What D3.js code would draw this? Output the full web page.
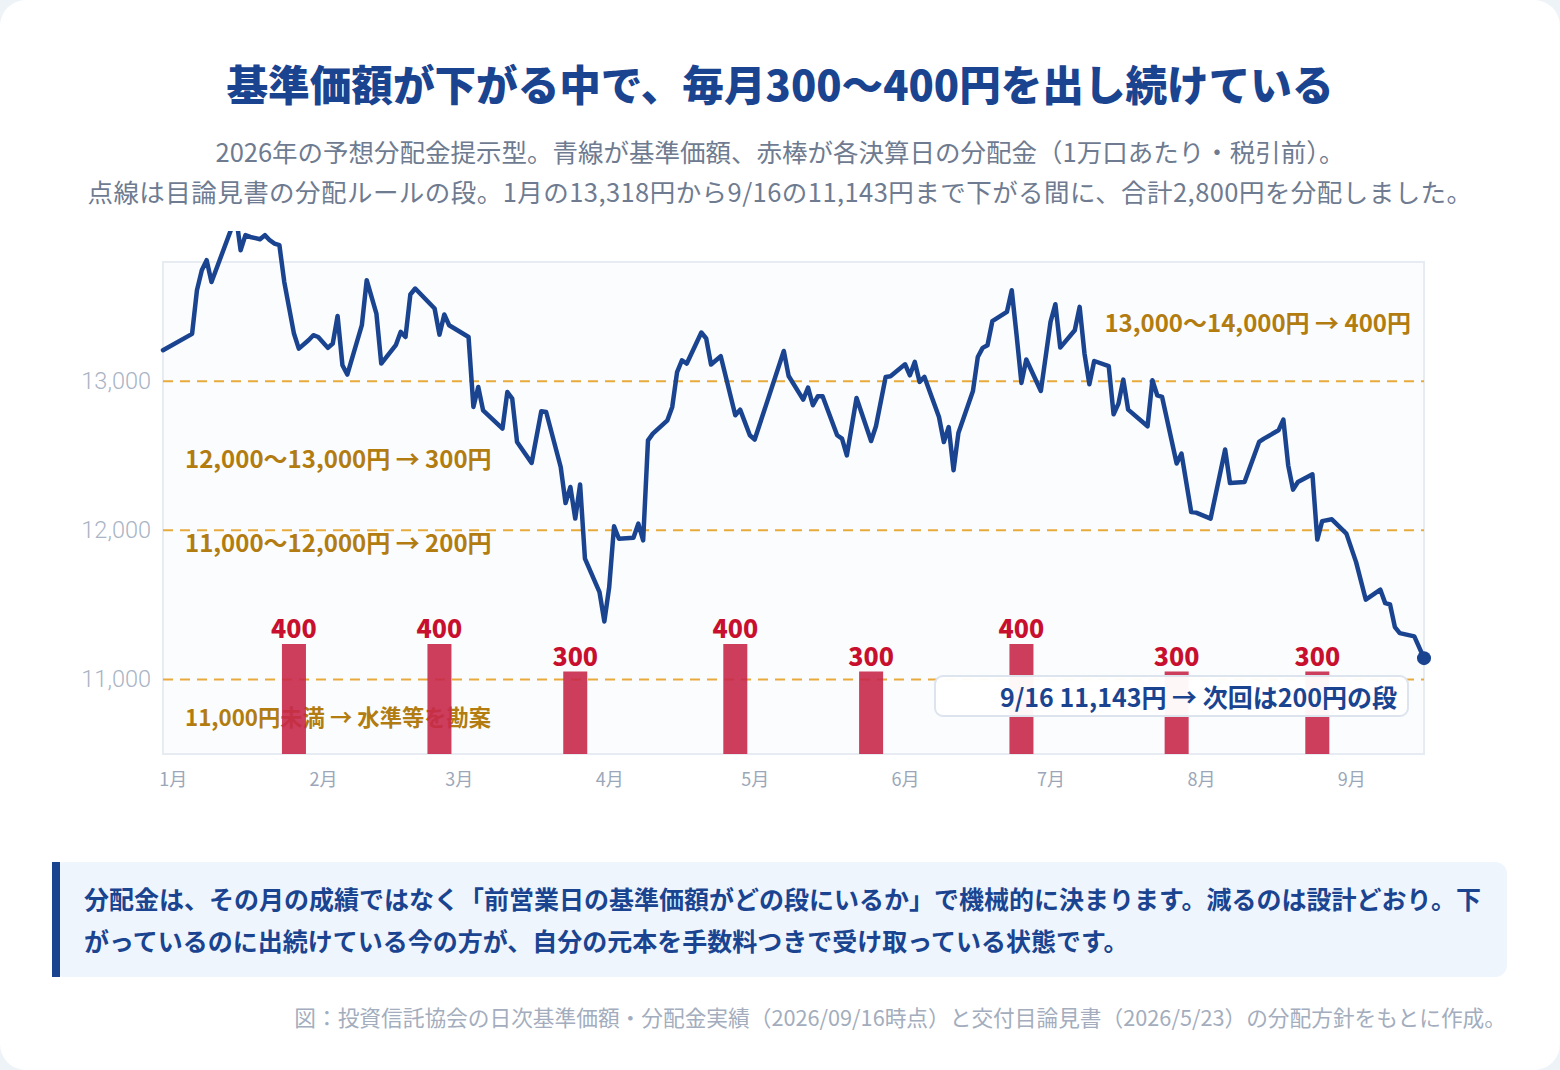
<!DOCTYPE html>
<html lang="ja">
<head>
<meta charset="utf-8">
<script src="https://cdn.jsdelivr.net/npm/d3@7"></script>
<style>
  html, body { margin: 0; padding: 0; background: #eef3f8; }
  svg { display: block; font-family: "Noto Sans CJK JP", "Noto Sans", sans-serif; }
</style>
</head>
<body>
<svg id="chart" width="1560" height="1070"></svg>
<script>
// 基準価額（日次, 円）
var navDates = [
  "2025-12-30","2026-01-05","2026-01-06","2026-01-07","2026-01-08","2026-01-09","2026-01-13","2026-01-14",
  "2026-01-15","2026-01-16","2026-01-17","2026-01-19","2026-01-20","2026-01-21","2026-01-22","2026-01-23",
  "2026-01-24","2026-01-26","2026-01-27","2026-01-29","2026-01-30","2026-01-31","2026-02-02","2026-02-03",
  "2026-02-04","2026-02-05","2026-02-06","2026-02-09","2026-02-10","2026-02-12","2026-02-13","2026-02-16",
  "2026-02-17","2026-02-18","2026-02-19","2026-02-20","2026-02-24","2026-02-25","2026-02-26","2026-02-27",
  "2026-03-03","2026-03-04","2026-03-05","2026-03-06","2026-03-10","2026-03-11","2026-03-12","2026-03-13",
  "2026-03-16","2026-03-18","2026-03-19","2026-03-22","2026-03-23","2026-03-24","2026-03-25","2026-03-26",
  "2026-03-27","2026-03-30","2026-03-31","2026-04-01","2026-04-02","2026-04-03","2026-04-06","2026-04-07",
  "2026-04-08","2026-04-09","2026-04-10","2026-04-13","2026-04-14","2026-04-15","2026-04-16","2026-04-17",
  "2026-04-20","2026-04-21","2026-04-22","2026-04-24","2026-04-27","2026-04-28","2026-04-30","2026-05-01",
  "2026-05-07","2026-05-08","2026-05-11","2026-05-12","2026-05-13","2026-05-14","2026-05-15","2026-05-18",
  "2026-05-19","2026-05-20","2026-05-22","2026-05-25","2026-05-26","2026-05-28","2026-05-29","2026-06-01",
  "2026-06-02","2026-06-03","2026-06-04","2026-06-05","2026-06-08","2026-06-09","2026-06-10","2026-06-11",
  "2026-06-12","2026-06-15","2026-06-16","2026-06-17","2026-06-18","2026-06-19","2026-06-22","2026-06-23",
  "2026-06-24","2026-06-25","2026-06-26","2026-06-29","2026-07-01","2026-07-02","2026-07-03","2026-07-06",
  "2026-07-07","2026-07-08","2026-07-09","2026-07-10","2026-07-13","2026-07-14","2026-07-15","2026-07-16",
  "2026-07-17","2026-07-21","2026-07-22","2026-07-23","2026-07-24","2026-07-27","2026-07-28","2026-07-30",
  "2026-07-31","2026-08-03","2026-08-06","2026-08-07","2026-08-10","2026-08-13","2026-08-14","2026-08-17",
  "2026-08-18","2026-08-19","2026-08-20","2026-08-21","2026-08-24","2026-08-25","2026-08-26","2026-08-28",
  "2026-08-31","2026-09-02","2026-09-04","2026-09-07","2026-09-08","2026-09-09","2026-09-10","2026-09-11",
  "2026-09-14","2026-09-16"
];
var navValues = [
  13208,13318,13611,13745,13812,13666,14015,14120,
  13879,13980,13968,13953,13980,13946,13924,13913,
  13667,13320,13219,13275,13309,13297,13224,13253,
  13438,13107,13045,13376,13678,13454,13119,13242,
  13331,13297,13582,13622,13488,13313,13448,13376,
  13297,12828,12962,12805,12683,12928,12884,12593,
  12452,12799,12794,12425,12183,12291,12079,12307,
  11810,11586,11389,11619,12027,11944,11951,12045,
  11933,12604,12649,12738,12828,13062,13141,13119,
  13327,13287,13112,13168,12772,12810,12638,12609,
  13203,13035,12877,12958,12839,12899,12899,12638,
  12615,12503,12888,12599,12698,13029,13034,13114,
  13040,13130,12996,13029,12760,12593,12693,12403,
  12653,12935,13163,13224,13242,13403,13465,13611,
  13309,12989,13146,12935,13398,13517,13226,13342,
  13499,13186,12980,13136,13101,12779,12850,13011,
  12810,12698,13007,12906,12895,12448,12515,12123,
  12119,12079,12542,12317,12324,12593,12615,12671,
  12743,12436,12273,12324,12376,11938,12062,12074,
  11978,11787,11535,11602,11512,11503,11351,11311,
  11289,11143
];

// 決算日と分配金（1万口あたり・税引前, 円）
var payDates = ["2026-01-26","2026-02-25","2026-03-25","2026-04-27","2026-05-25","2026-06-25","2026-07-27","2026-08-25"];
var payAmounts = [400, 400, 300, 400, 300, 400, 300, 300];

// 分配ルールの段
var bandLines = [11000, 12000, 13000];
var bandLabels = [
  "13,000〜14,000円 → 400円",
  "12,000〜13,000円 → 300円",
  "11,000〜12,000円 → 200円",
  "11,000円未満 → 水準等を勘案"
];

var yTicks = [11000, 12000, 13000];
var monthDates = ["2026-01-01","2026-02-01","2026-03-01","2026-04-01","2026-05-01","2026-06-01","2026-07-01","2026-08-01","2026-09-01"];
var monthLabels = ["1月","2月","3月","4月","5月","6月","7月","8月","9月"];

var titleText = "基準価額が下がる中で、毎月300〜400円を出し続けている";
var subLines = [
  "2026年の予想分配金提示型。青線が基準価額、赤棒が各決算日の分配金（1万口あたり・税引前）。",
  "点線は目論見書の分配ルールの段。1月の13,318円から9/16の11,143円まで下がる間に、合計2,800円を分配しました。"
];
var noteLines = [
  "分配金は、その月の成績ではなく「前営業日の基準価額がどの段にいるか」で機械的に決まります。減るのは設計どおり。下",
  "がっているのに出続けている今の方が、自分の元本を手数料つきで受け取っている状態です。"
];
var endNote = "9/16 11,143円 → 次回は200円の段";
var sourceText = "図：投資信託協会の日次基準価額・分配金実績（2026/09/16時点）と交付目論見書（2026/5/23）の分配方針をもとに作成。";

var W = 1560, H = 1070;
var navy = "#1a4490", gold = "#b27c10", crimson = "#c8102e";
var parse = d3.timeParse("%Y-%m-%d");

var nav = navDates.map(function (d, i) { return {date: parse(d), v: navValues[i]}; });
var pays = payDates.map(function (d, i) { return {date: parse(d), v: payAmounts[i]}; });

var plot = {left: 163, right: 1424, top: 262, bottom: 754};

var x = d3.scaleTime()
    .domain([parse("2025-12-30"), parse("2026-09-16")])
    .range([plot.left, plot.right]);
var y = d3.scaleLinear().domain([10500, 13800]).range([plot.bottom, plot.top]);
var barH = d3.scaleLinear().domain([0, 400]).range([0, 110]);

var svg = d3.select("#chart");

// card
svg.append("rect").attr("width", W).attr("height", H).attr("fill", "#eef3f8");
svg.append("rect").attr("width", W).attr("height", H).attr("rx", 26).attr("fill", "#ffffff");

// title
svg.append("text")
    .attr("x", W / 2).attr("y", 83)
    .attr("text-anchor", "middle").attr("dominant-baseline", "central")
    .attr("font-size", 41.6).attr("font-weight", 900).attr("fill", navy)
    .text(titleText);

svg.selectAll(".sub").data(subLines).enter().append("text")
    .attr("class", "sub")
    .attr("x", W / 2).attr("y", function (d, i) { return 150 + i * 40; })
    .attr("text-anchor", "middle").attr("dominant-baseline", "central")
    .attr("font-size", 25.5).attr("fill", "#6e7b90")
    .attr("letter-spacing", function (d, i) { return i === 1 ? 0.45 : 0; })
    .text(function (d) { return d; });

// plot area
svg.append("rect")
    .attr("x", plot.left).attr("y", plot.top)
    .attr("width", plot.right - plot.left).attr("height", plot.bottom - plot.top)
    .attr("fill", "#fafcfe").attr("stroke", "#e7ecf3").attr("stroke-width", 2);

// axes
var yAxis = svg.append("g")
    .attr("transform", "translate(" + plot.left + ",0)")
    .call(d3.axisLeft(y).tickValues(yTicks).tickFormat(d3.format(",")).tickSize(0).tickPadding(12));
yAxis.select(".domain").remove();
yAxis.selectAll("text").attr("font-size", 23.5).attr("fill", "#a9b4c5").attr("font-family", "Roboto, 'Noto Sans', sans-serif").attr("font-weight", 300);

var xAxis = svg.append("g")
    .attr("transform", "translate(0," + plot.bottom + ")")
    .call(d3.axisBottom(x).tickValues(monthDates.map(parse))
        .tickFormat(function (d, i) { return monthLabels[i]; })
        .tickSize(0).tickPadding(19));
xAxis.select(".domain").remove();
xAxis.selectAll("text").attr("font-size", 18).attr("fill", "#9ba7b9").attr("font-family", "'Noto Sans CJK JP', sans-serif");

// band lines
svg.selectAll(".band").data(bandLines).enter().append("line")
    .attr("class", "band")
    .attr("x1", plot.left).attr("x2", plot.right)
    .attr("y1", function (d) { return y(d); }).attr("y2", function (d) { return y(d); })
    .attr("stroke", "#e9aa3c").attr("stroke-width", 2).attr("stroke-dasharray", "10 7");

// band labels
var labelPos = [
  {x: 1411, v: 13400, anchor: "end", size: 24},
  {x: 185, v: 12490, anchor: "start", size: 24},
  {x: 185, v: 11925, anchor: "start", size: 24},
  {x: 185, v: 10755, anchor: "start", size: 22.3}
];
svg.selectAll(".bandLabel").data(bandLabels).enter().append("text")
    .attr("class", "bandLabel")
    .attr("x", function (d, i) { return labelPos[i].x; })
    .attr("y", function (d, i) { return y(labelPos[i].v); })
    .attr("text-anchor", function (d, i) { return labelPos[i].anchor; })
    .attr("dominant-baseline", "central")
    .attr("font-size", function (d, i) { return labelPos[i].size; })
    .attr("font-weight", 700).attr("fill", gold)
    .text(function (d) { return d; });

// distribution bars
svg.selectAll(".bar").data(pays).enter().append("rect")
    .attr("class", "bar")
    .attr("x", function (d) { return x(d.date) - 12; })
    .attr("width", 24)
    .attr("y", function (d) { return plot.bottom - barH(d.v); })
    .attr("height", function (d) { return barH(d.v); })
    .attr("fill", "#c8284a").attr("fill-opacity", 0.9);

svg.selectAll(".barLabel").data(pays).enter().append("text")
    .attr("class", "barLabel")
    .attr("x", function (d) { return x(d.date); })
    .attr("y", function (d) { return plot.bottom - barH(d.v) - 6; })
    .attr("text-anchor", "middle")
    .attr("font-size", 25).attr("font-weight", 800).attr("fill", crimson)
    .text(function (d) { return d3.format(",")(d.v); });

// NAV line
svg.append("clipPath").attr("id", "lineClip")
  .append("rect").attr("x", 0).attr("y", 231).attr("width", W).attr("height", H);

var line = d3.line().x(function (d) { return x(d.date); }).y(function (d) { return y(d.v); });
svg.append("path")
    .datum(nav)
    .attr("clip-path", "url(#lineClip)")
    .attr("d", line)
    .attr("fill", "none").attr("stroke", navy).attr("stroke-width", 4.5)
    .attr("stroke-linejoin", "round").attr("stroke-linecap", "round");

var last = nav[nav.length - 1];
svg.append("circle")
    .attr("cx", x(last.date)).attr("cy", y(last.v)).attr("r", 7)
    .attr("fill", navy);

// end note
svg.append("rect")
    .attr("x", 935).attr("y", 676).attr("width", 473).attr("height", 40).attr("rx", 8)
    .attr("fill", "#ffffff").attr("fill-opacity", 0.96)
    .attr("stroke", "#dde4ee").attr("stroke-width", 2);
svg.append("text")
    .attr("x", 1397).attr("y", 696)
    .attr("text-anchor", "end").attr("dominant-baseline", "central")
    .attr("font-size", 25).attr("font-weight", 700).attr("fill", navy)
    .text(endNote);

// note box
svg.append("rect")
    .attr("x", 52).attr("y", 862).attr("width", 1455).attr("height", 115).attr("rx", 12)
    .attr("fill", "#eef5fd");
svg.append("rect")
    .attr("x", 52).attr("y", 862).attr("width", 8).attr("height", 115)
    .attr("fill", navy);
svg.selectAll(".note").data(noteLines).enter().append("text")
    .attr("class", "note")
    .attr("x", 84).attr("y", function (d, i) { return 898 + i * 42; })
    .attr("dominant-baseline", "central")
    .attr("font-size", 25).attr("font-weight", 700).attr("fill", navy)
    .text(function (d) { return d; });

// source
svg.append("text")
    .attr("x", 1506).attr("y", 1016)
    .attr("text-anchor", "end").attr("dominant-baseline", "central")
    .attr("font-size", 21.7).attr("fill", "#a3adbd")
    .text(sourceText);
</script>
</body>
</html>
